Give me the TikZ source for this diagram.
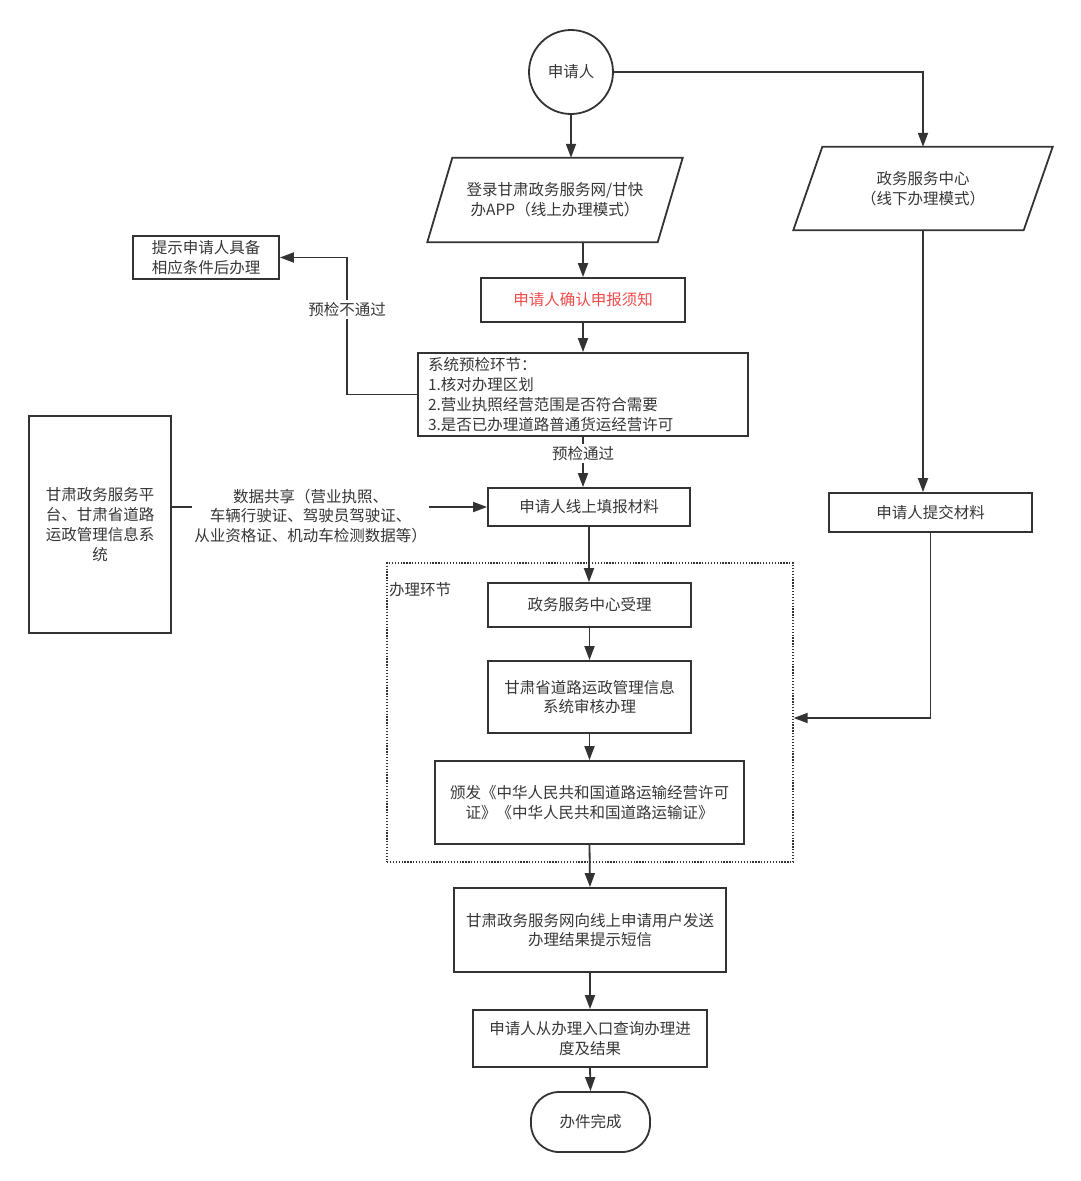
\documentclass[tikz,border=0pt]{standalone}
\usepackage{fontspec}
\setmainfont{Noto Sans CJK SC}
\usetikzlibrary{arrows.meta}
\definecolor{LineClr}{HTML}{333333}
\definecolor{TextClr}{HTML}{363636}
\definecolor{NoteClr}{HTML}{F04A4A}

\begin{document}
\begin{tikzpicture}[x=1pt,y=-1pt,
  every node/.style={font=\fontsize{15.5}{19.8}\selectfont,text=TextClr},
  box/.style={draw=LineClr,line width=1.8pt,inner sep=0pt,align=center},
  frame/.style={draw=LineClr,line width=1.8pt,line join=miter},
  arrow/.style={draw=LineClr,line width=1.8pt,-{Triangle[length=14pt,width=10pt]}},
  tag/.style={fill=white,inner sep=2pt,align=center}]
\useasboundingbox (0,0) rectangle (1080,1181);

% frame of the handling stage
\node[draw=LineClr,line width=1.3pt,dash pattern=on 1.3pt off 1.6pt,minimum width=406pt,minimum height=299pt,inner sep=0pt] (stage) at (590,712.5) {};
\node[anchor=west,inner sep=0pt] (stagename) at (389,590) {办理环节};

\node[box,circle,minimum size=84pt] (applicant) at (571,72) {申请人};
\node[align=center,inner sep=0pt,minimum width=230pt,minimum height=84pt] (online) at (555,200) {登录甘肃政务服务网/甘快\\办APP（线上办理模式）};
\node[align=center,inner sep=0pt,minimum width=230pt,minimum height=83pt] (offline) at (923,188.5) {政务服务中心\\（线下办理模式）};
\draw[frame] ([xshift=-12.5pt]online.south west) -- ([xshift=12.5pt]online.north west)
  -- ([xshift=12.5pt]online.north east) -- ([xshift=-12.5pt]online.south east) -- cycle;
\draw[frame] ([xshift=-14.5pt]offline.south west) -- ([xshift=14.5pt]offline.north west)
  -- ([xshift=14.5pt]offline.north east) -- ([xshift=-14.5pt]offline.south east) -- cycle;
\node[box,minimum width=204pt,minimum height=44pt,text=NoteClr] (notice) at (583,300) {申请人确认申报须知};
\node[box,text width=310pt,align=left,inner xsep=10pt,minimum height=83pt] (precheck) at (583,394.5) {系统预检环节：\\1.核对办理区划\\2.营业执照经营范围是否符合需要\\3.是否已办理道路普通货运经营许可};
\node[box,minimum width=146pt,minimum height=43pt] (hint) at (206,257.5) {提示申请人具备\\相应条件后办理};
\node[box,minimum width=142pt,minimum height=217pt] (platform) at (100,524.5) {甘肃政务服务平\\台、甘肃省道路\\运政管理信息系\\统};
\node[box,minimum width=202pt,minimum height=38pt] (fill) at (589,507) {申请人线上填报材料};
\node[box,minimum width=203pt,minimum height=39pt] (submit) at (930.5,512.5) {申请人提交材料};
\node[box,minimum width=203pt,minimum height=44pt] (accept) at (589.5,605) {政务服务中心受理};
\node[box,minimum width=203pt,minimum height=72pt] (review) at (589.5,697) {甘肃省道路运政管理信息\\系统审核办理};
\node[box,minimum width=309pt,minimum height=83pt] (issue) at (589.5,802.5) {颁发《中华人民共和国道路运输经营许可\\证》《中华人民共和国道路运输证》};
\node[box,minimum width=272pt,minimum height=84pt] (send) at (590,930) {甘肃政务服务网向线上申请用户发送\\办理结果提示短信};
\node[box,minimum width=234pt,minimum height=57pt] (query) at (590,1038.5) {申请人从办理入口查询办理进\\度及结果};
\node[box,rounded corners=28pt,minimum width=119pt,minimum height=60pt] (done) at (590.5,1122) {办件完成};

\draw[arrow] (applicant.south) -- (applicant.south |- online.north);
\draw[arrow] (applicant.east) -| (offline.north);
\draw[arrow] (notice.north |- online.south) -- (notice.north);
\draw[arrow] (notice.south) -- (precheck.north);
\draw[arrow] (precheck.west) -- ++(-70,0) |- node[tag,pos=0.31] {预检不通过} (hint.east);
\draw[arrow] (precheck.south) -- node[tag,pos=0.33] {预检通过} (precheck.south |- fill.north);
\draw[arrow] (platform.east |- fill.west) -- node[tag,pos=0.44,yshift=-9pt] {数据共享（营业执照、\\车辆行驶证、驾驶员驾驶证、\\从业资格证、机动车检测数据等）} (fill.west);
\draw[arrow] (fill.south) -- (fill.south |- accept.north);
\draw[arrow] (accept.south) -- (review.north);
\draw[arrow] (review.south) -- (issue.north);
\draw[arrow] (offline.south) -- (offline.south |- submit.north);
\draw[arrow] (submit.south) |- ([yshift=-5.5pt]stage.east);
\draw[arrow] (issue.south) -- (send.north);
\draw[arrow] (send.south) -- (query.north);
\draw[arrow] (query.south) -- (done.north);

\end{tikzpicture}
\end{document}
